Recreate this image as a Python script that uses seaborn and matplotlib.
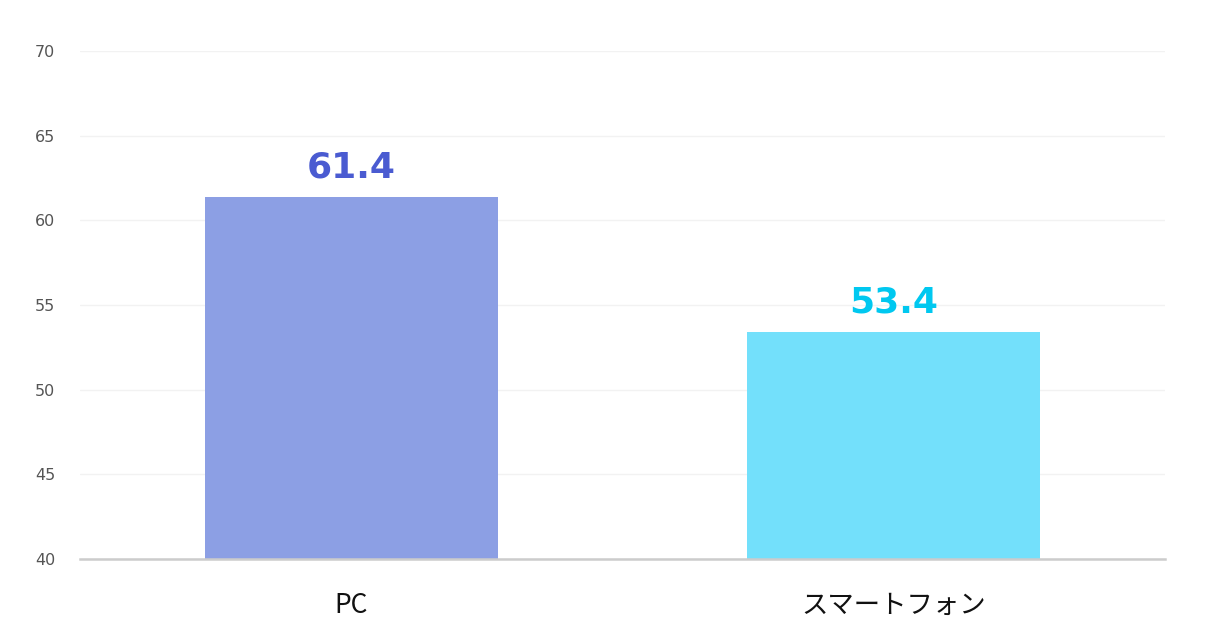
import matplotlib
matplotlib.use("Agg")
import matplotlib.pyplot as plt
import seaborn as sns
import pandas as pd

categories = ["PC", "スマートフォン"]
values = [61.4, 53.4]
bar_colors = ["#8C9FE4", "#73E0FB"]
label_colors = ["#4A5BD1", "#00C8F0"]
yticks = [40, 45, 50, 55, 60, 65, 70]

sns.set_theme(style="white")
plt.rcParams['font.family'] = ['Noto Sans CJK JP', 'DejaVu Sans']

df = pd.DataFrame({"cat": categories, "val": values})

fig = plt.figure(figsize=(12.1, 6.43), dpi=100)
ax = fig.add_axes([80/1210, 1-559/643, (1165-80)/1210, (559-51)/643])

sns.barplot(data=df, x="cat", y="val", hue="cat", palette=bar_colors,
            width=0.54, ax=ax, legend=False, saturation=1, edgecolor="none")

ax.set_ylim(40, 70)
ax.set_xlim(-0.5, 1.5)
ax.set_yticks(yticks)
ax.set_yticklabels([str(t) for t in yticks], color="#555555", fontsize=11.5,
                   family=['DejaVu Sans'])
ax.tick_params(axis='y', length=0, pad=18)
ax.tick_params(axis='x', length=0, pad=24, labelsize=19, labelcolor="#111111")
ax.set_xlabel("")
ax.set_ylabel("")
ax.yaxis.grid(True, color="#F2F2F2", linewidth=1)
ax.set_axisbelow(True)
for s in ["top", "right", "left"]:
    ax.spines[s].set_visible(False)
ax.spines["bottom"].set_color("#CCCCCC")
ax.spines["bottom"].set_linewidth(1.8)

for i, (v, c) in enumerate(zip(values, label_colors)):
    ax.annotate(f"{v:.1f}", xy=(i, v), xytext=(0, 9), textcoords="offset points",
                ha="center", va="bottom", fontsize=26, fontweight="bold",
                color=c, family=['DejaVu Sans'])

fig.savefig("out.png", dpi=100)
